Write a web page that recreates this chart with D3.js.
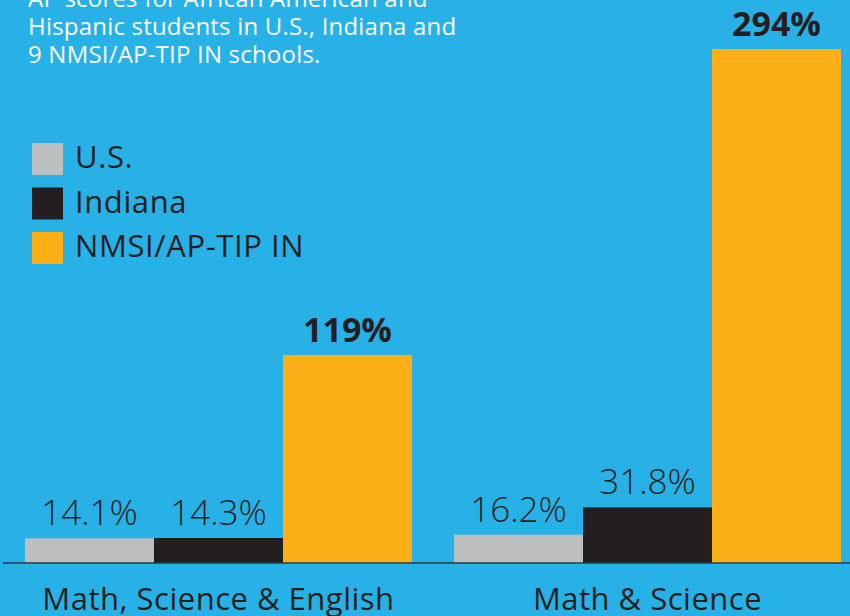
<!DOCTYPE html>
<html>
<head>
<meta charset="utf-8">
<script src="https://cdn.jsdelivr.net/npm/d3@7"></script>
<style>
  html, body { margin: 0; padding: 0; background: #27b1e6; }
  svg { display: block; font-family: 'Open Sans', sans-serif; }
</style>
</head>
<body>
<svg id="chart" width="850" height="616"></svg>
<script>
var categories = ['Math, Science & English', 'Math & Science'];
var series = ['U.S.', 'Indiana', 'NMSI/AP-TIP IN'];
var us_values = [14.1, 16.2];
var indiana_values = [14.3, 31.8];
var nmsi_values = [119, 294];
var value_labels = [['14.1%', '14.3%', '119%'], ['16.2%', '31.8%', '294%']];
var title_lines = ['AP scores for African American and', 'Hispanic students in U.S., Indiana and', '9 NMSI/AP-TIP IN schools.'];

var colors = {'U.S.': '#bcbec0', 'Indiana': '#231f20', 'NMSI/AP-TIP IN': '#fcaf17'};
var text_dark = '#231f20';

draw_chart();

function draw_chart(){
    var svg = d3.select('#chart');
    var baseline = 563;

    var rows = categories.map(function(c, i){
        return {category: c, values: [us_values[i], indiana_values[i], nmsi_values[i]], labels: value_labels[i]};
    });

    var x_outer = d3.scaleBand().domain(categories).range([25, 841]).paddingInner(0.098).paddingOuter(0);
    var x_inner = d3.scaleBand().domain(series).range([0, x_outer.bandwidth()]).padding(0);
    var y_scale = d3.scaleLinear().domain([0, 294]).range([baseline, 49]);

    // title text, top is cut off in the original
    svg.append('g').selectAll('text')
        .data(title_lines)
        .enter()
        .append('text')
        .attr('x', 28)
        .attr('y', function(d, i){ return 7 + i * 28; })
        .attr('fill', '#ffffff')
        .style('font-size', '24px')
        .style('letter-spacing', '0.2px')
        .text(function(d){ return d; });

    // legend
    var legend = svg.append('g').selectAll('g')
        .data(series)
        .enter()
        .append('g')
        .attr('transform', function(d, i){ return 'translate(32,' + (143 + i * 44.5) + ')'; });
    legend.append('rect').attr('width', 31).attr('height', 32).attr('fill', function(d){ return colors[d]; });
    legend.append('text')
        .attr('x', 43)
        .attr('y', 25)
        .attr('fill', text_dark)
        .style('font-size', '31px')
        .style('letter-spacing', '0.6px')
        .text(function(d){ return d; });

    var groups = svg.append('g').selectAll('g')
        .data(rows)
        .enter()
        .append('g')
        .attr('transform', function(d){ return 'translate(' + x_outer(d.category) + ',0)'; });

    groups.selectAll('rect')
        .data(function(d){ return d.values.map(function(v, i){ return {key: series[i], value: v, label: d.labels[i]}; }); })
        .enter()
        .append('rect')
        .attr('x', function(d){ return x_inner(d.key); })
        .attr('y', function(d){ return y_scale(d.value); })
        .attr('width', x_inner.bandwidth())
        .attr('height', function(d){ return baseline - y_scale(d.value); })
        .attr('fill', function(d){ return colors[d.key]; });

    groups.selectAll('.value-label')
        .data(function(d){ return d.values.map(function(v, i){ return {key: series[i], value: v, label: d.labels[i]}; }); })
        .enter()
        .append('text')
        .attr('class', 'value-label')
        .attr('x', function(d){ return x_inner(d.key) + x_inner.bandwidth() / 2; })
        .attr('y', function(d){ return y_scale(d.value) - 13; })
        .attr('text-anchor', 'middle')
        .attr('fill', text_dark)
        .style('font-size', function(d){ return d.key == 'NMSI/AP-TIP IN' ? '34px' : '35px'; })
        .style('font-weight', function(d){ return d.key == 'NMSI/AP-TIP IN' ? 700 : 300; })
        .text(function(d){ return d.label; });

    // baseline axis
    var x_axis = svg.append('g').attr('transform', 'translate(0,' + baseline + ')');
    x_axis.append('line').attr('x1', 3).attr('x2', 850).attr('stroke', '#2b3a45').attr('stroke-width', 1.5);

    svg.append('g').selectAll('text')
        .data(categories)
        .enter()
        .append('text')
        .attr('x', function(d){ return x_outer(d) + x_outer.bandwidth() / 2; })
        .attr('y', 610)
        .attr('text-anchor', 'middle')
        .attr('fill', text_dark)
        .style('font-size', '31px')
        .style('letter-spacing', '0.5px')
        .text(function(d){ return d; });
}
</script>
</body>
</html>
